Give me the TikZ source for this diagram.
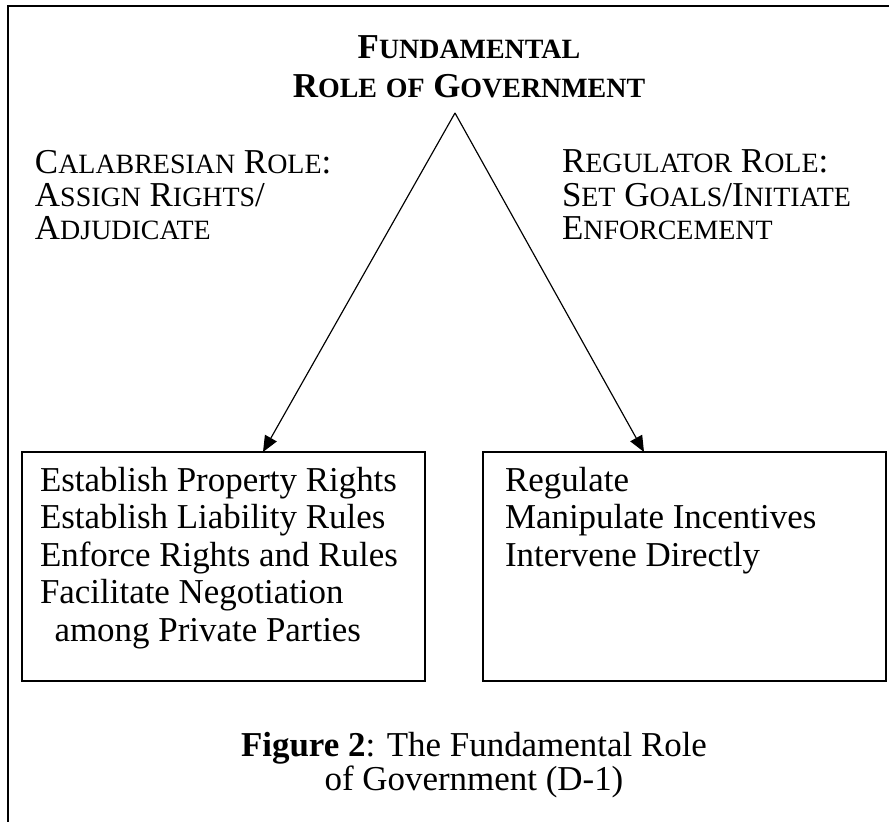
\documentclass[tikz,border=0pt]{standalone}
\usepackage{fontspec}
\setmainfont{Liberation Serif}
\usetikzlibrary{arrows.meta,fit}
\newcommand\mysc[2]{#1\scalebox{0.8}{#2}}
\begin{document}
\begin{tikzpicture}[x=0.3436pt,y=-0.3436pt,
  every node/.style={inner sep=0pt,outer sep=0pt},
  frame/.style={line width=0.75pt,line cap=rect},
  box/.style={draw,line width=0.55pt,inner sep=0pt},
  conn/.style={line width=0.4pt,-{Triangle[length=5.5pt,width=4.6pt]}},
  titletext/.style={font=\fontsize{12}{13.4}\selectfont\bfseries,align=center},
  roletext/.style={font=\fontsize{12}{11.4}\selectfont,align=left,anchor=north west},
  bodytext/.style={font=\fontsize{12}{12.9}\selectfont,align=left,anchor=north west},
  captext/.style={font=\fontsize{12}{11.6}\selectfont,align=center}]
\useasboundingbox (0,0) rectangle (889,822);
% outer frame (left and top edges visible)
\draw[frame] (8,830) -- (8,6) -- (895,6);
% title
\node[titletext] (title) at (469,67) {\mysc{F}{UNDAMENTAL}\\\mysc{R}{OLE} \scalebox{0.8}{OF} \mysc{G}{OVERNMENT}};
% role labels
\node[roletext] (lrole) at (35,150) {\mysc{C}{ALABRESIAN} \mysc{R}{OLE}:\\\mysc{A}{SSIGN} \mysc{R}{IGHTS}/\\\mysc{A}{DJUDICATE}};
\node[roletext] (rrole) at (562,150) {\mysc{R}{EGULATOR} \mysc{R}{OLE}:\\\mysc{S}{ET} \mysc{G}{OALS}/\mysc{I}{NITIATE}\\\mysc{E}{NFORCEMENT}};
% boxes
\node[box,fit={(22,452) (425,681)}] (lbox) {};
\node[box,fit={(483,452) (886,681)}] (rbox) {};
\node[bodytext] (ltext) at (40,467) {Establish Property Rights\\Establish Liability Rules\\Enforce Rights and Rules\\Facilitate Negotiation\\\hspace{5pt}among Private Parties};
\node[bodytext] (rtext) at (505,467) {Regulate\\Manipulate Incentives\\Intervene Directly};
% connectors
\coordinate (apex) at (455,113);
\coordinate (ltip) at (263,452);
\coordinate (rtip) at (644,452);
\draw[conn] (apex) -- (ltip);
\draw[conn] (apex) -- (rtip);
% caption
\node[captext] (caption) at (474,765) {\textbf{Figure 2}: The Fundamental Role\\of Government (D-1)};
\end{tikzpicture}
\end{document}
